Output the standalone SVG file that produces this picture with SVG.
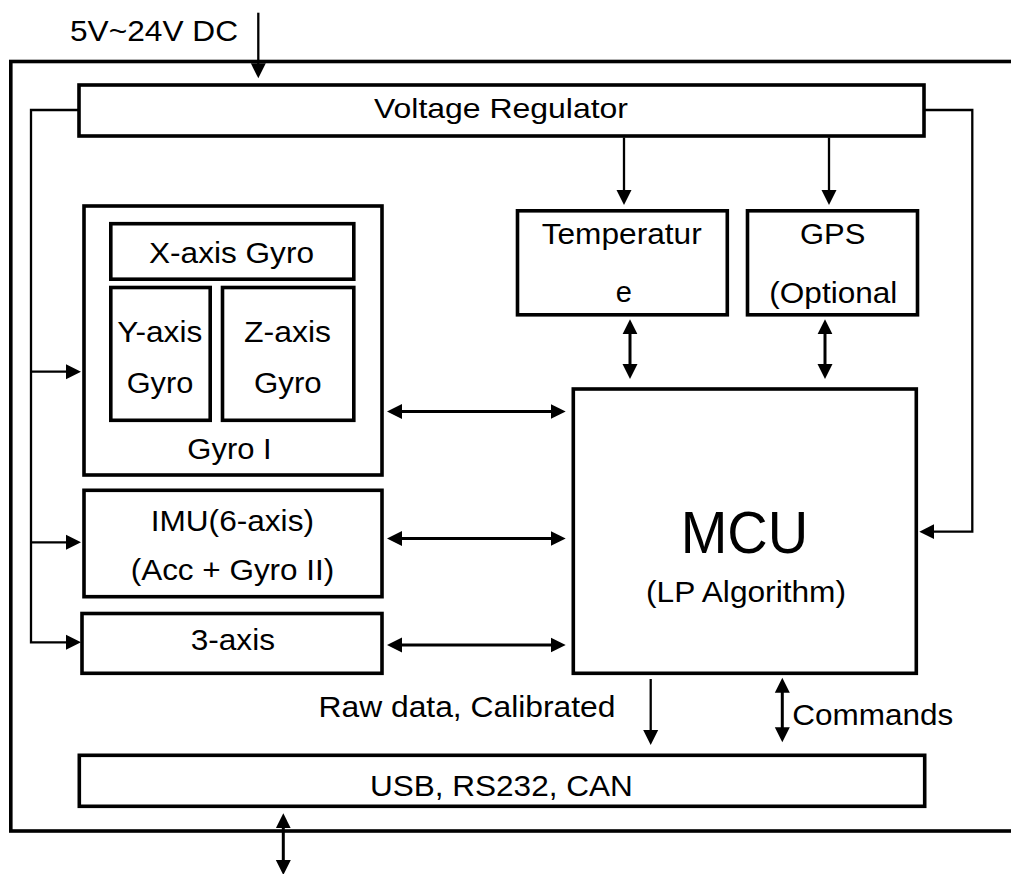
<svg xmlns="http://www.w3.org/2000/svg" width="1011" height="874" viewBox="0 0 1011 874">
<style>
.box{fill:#fff;stroke:#000;stroke-width:3.6}
.ln{fill:none;stroke:#000;stroke-width:2.3}
.dl{fill:none;stroke:#000;stroke-width:3}
.t{font-family:"Liberation Sans",Arial,sans-serif;font-size:29px;fill:#000}
</style>
<defs>
<marker id="ah" markerUnits="userSpaceOnUse" markerWidth="16" markerHeight="16" refX="1" refY="7.5" orient="auto-start-reverse" viewBox="0 0 16 15">
<path d="M0,0 L15,7.5 L0,15 z" fill="#000"/>
</marker>
</defs>
<rect id="outer" x="10.8" y="61.5" width="1100" height="769.5" fill="none" stroke="#000" stroke-width="3.6"/>
<text class="t" x="70" y="40.5" textLength="168" lengthAdjust="spacingAndGlyphs">5V~24V DC</text>
<g id="vreg"><rect class="box" x="79" y="85" width="845" height="51"/>
<text class="t" x="374" y="118" style="font-size:27.5px" textLength="254" lengthAdjust="spacingAndGlyphs">Voltage Regulator</text></g>
<g id="gyro1"><rect class="box" x="84" y="206" width="298" height="269"/>
<text class="t" x="187.3" y="459" textLength="84.4" lengthAdjust="spacingAndGlyphs">Gyro I</text></g>
<g id="xgyro"><rect class="box" x="110.8" y="223.7" width="243" height="55.5"/>
<text class="t" x="149" y="263.3" textLength="165" lengthAdjust="spacingAndGlyphs">X-axis Gyro</text></g>
<g id="ygyro"><rect class="box" x="110.8" y="287.5" width="99.4" height="132.8"/>
<text class="t" x="117.3" y="341.7" textLength="85" lengthAdjust="spacingAndGlyphs">Y-axis</text>
<text class="t" x="126.7" y="392.5" textLength="66.6" lengthAdjust="spacingAndGlyphs">Gyro</text></g>
<g id="zgyro"><rect class="box" x="222.5" y="287.5" width="131.3" height="132.8"/>
<text class="t" x="244" y="341.7" textLength="87" lengthAdjust="spacingAndGlyphs">Z-axis</text>
<text class="t" x="254" y="392.5" textLength="67.7" lengthAdjust="spacingAndGlyphs">Gyro</text></g>
<g id="imu"><rect class="box" x="84" y="490.3" width="298" height="106.4"/>
<text class="t" x="150.7" y="530.7" textLength="163.3" lengthAdjust="spacingAndGlyphs">IMU(6-axis)</text>
<text class="t" x="130.7" y="580" textLength="203.6" lengthAdjust="spacingAndGlyphs">(Acc + Gyro II)</text></g>
<g id="axis3"><rect class="box" x="82" y="613.5" width="300" height="59.8"/>
<text class="t" x="190.7" y="650" textLength="84.3" lengthAdjust="spacingAndGlyphs">3-axis</text></g>
<g id="temp"><rect class="box" x="517.5" y="210.8" width="209.8" height="104"/>
<text class="t" x="541.7" y="244" textLength="160" lengthAdjust="spacingAndGlyphs">Temperatur</text>
<text class="t" x="623.7" y="302.3" text-anchor="middle">e</text></g>
<g id="gps"><rect class="box" x="747.5" y="210.8" width="170" height="104"/>
<text class="t" x="800" y="244" textLength="65.3" lengthAdjust="spacingAndGlyphs">GPS</text>
<text class="t" x="769.3" y="302.5" textLength="128" lengthAdjust="spacingAndGlyphs">(Optional</text></g>
<g id="mcu"><rect class="box" x="573.3" y="389" width="343" height="284.3"/>
<text class="t" x="680.7" y="553.3" style="font-size:60px" textLength="127.6" lengthAdjust="spacingAndGlyphs">MCU</text>
<text class="t" x="646" y="601.7" style="font-size:30px" textLength="200" lengthAdjust="spacingAndGlyphs">(LP Algorithm)</text></g>
<g id="usb"><rect class="box" x="79.3" y="755.3" width="845.4" height="51"/>
<text class="t" x="370" y="795.5" textLength="262.7" lengthAdjust="spacingAndGlyphs">USB, RS232, CAN</text></g>
<text class="t" x="318.5" y="717.3" textLength="297" lengthAdjust="spacingAndGlyphs">Raw data, Calibrated</text>
<text class="t" x="792.3" y="725" textLength="161" lengthAdjust="spacingAndGlyphs">Commands</text>
<g id="connectors">
<path class="ln" d="M258.3,12.7 V64.3" marker-end="url(#ah)"/>
<path class="ln" d="M79,110 H31 V642.3 H67" marker-end="url(#ah)"/>
<path class="ln" d="M31,371.7 H67" marker-end="url(#ah)"/>
<path class="ln" d="M31,542.3 H67" marker-end="url(#ah)"/>
<path class="ln" d="M624,137.5 V191" marker-end="url(#ah)"/>
<path class="ln" d="M829,137.5 V191" marker-end="url(#ah)"/>
<path class="ln" d="M924,110 H972.3 V531.7 H933.3" marker-end="url(#ah)"/>
<path class="dl" d="M630,333.3 V365" marker-start="url(#ah)" marker-end="url(#ah)"/>
<path class="dl" d="M825,333.3 V365" marker-start="url(#ah)" marker-end="url(#ah)"/>
<path class="dl" d="M401,411.5 H551.7" marker-start="url(#ah)" marker-end="url(#ah)"/>
<path class="dl" d="M401,538.5 H551.7" marker-start="url(#ah)" marker-end="url(#ah)"/>
<path class="dl" d="M401,645 H551.7" marker-start="url(#ah)" marker-end="url(#ah)"/>
<path class="ln" d="M650.7,679 V731" marker-end="url(#ah)"/>
<path class="dl" d="M782.3,691.7 V728.3" marker-start="url(#ah)" marker-end="url(#ah)"/>
<path class="dl" d="M283.3,827.3 V861" marker-start="url(#ah)" marker-end="url(#ah)"/>
</g>
</svg>
